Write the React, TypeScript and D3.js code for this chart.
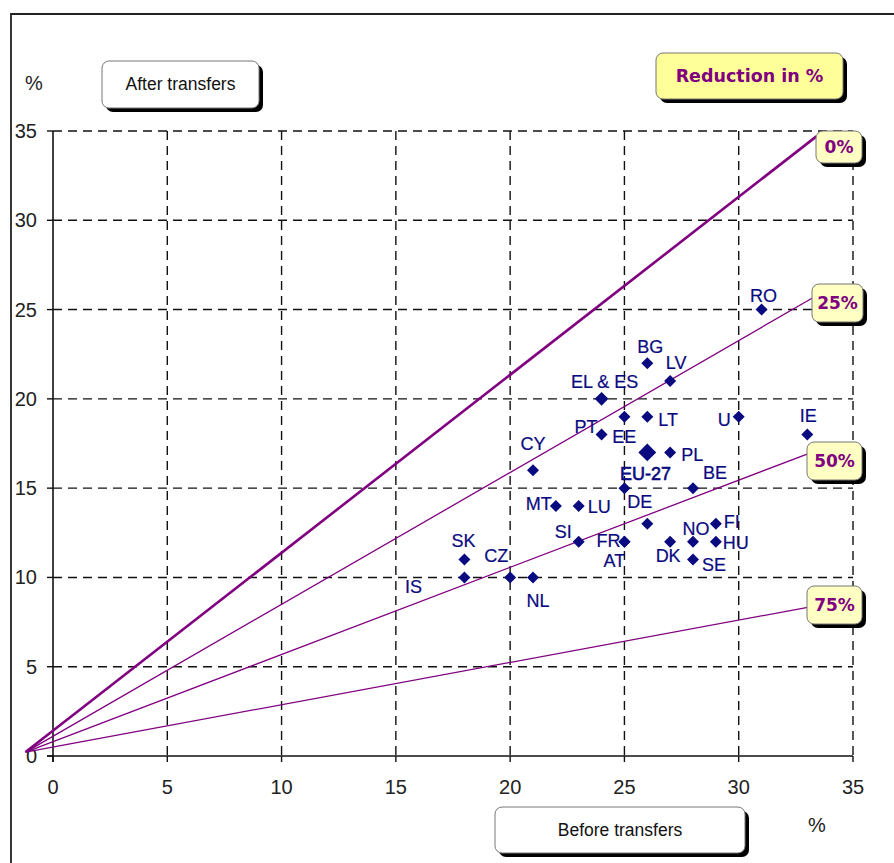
import React from "react";
import * as d3 from "d3";

// ---- data ----
const countries = ["RO","BG","LV","EL & ES","","LT","U","IE","PT","EE","PL","CY","EU-27","BE","DE","MT","LU","SI","FR","AT","DK","NO","FI","HU","SE","SK","IS","CZ","NL"];
const beforeTransfers = [31,26,27,24,25,26,30,33,24,26,27,21,25,28,26,22,23,23,25,25,27,28,29,29,28,18,18,20,21];
const afterTransfers = [25,22,21,20,19,19,19,18,18,17,17,16,15,15,13,14,14,12,12,12,12,12,13,12,11,11,10,10,10];
const bigPoints = ["EE"];

const xTicks = [0,5,10,15,20,25,30,35];
const yTicks = [0,5,10,15,20,25,30,35];

const reductionLabels = ["0%","25%","50%","75%"];
const lineOrigin = [-1.2, 0.22];
const lineEndX = [33.4, 33.7, 33.8, 33.55];
const lineEndY = [34.7, 26.0, 17.3, 8.45];

// ---- layout (positions / styles) ----
const labelLayout: Record<string, [string, number, number]> = {
  "RO": ["middle", 2, -8],
  "BG": ["middle", 3, -10],
  "LV": ["middle", 6, -12],
  "EL & ES": ["middle", 3, -11],
  "LT": ["start", 11, 9],
  "U": ["end", -8, 9],
  "IE": ["middle", 1, -13],
  "PT": ["end", -4, -2],
  "EE": ["end", -11, -9],
  "PL": ["start", 11, 9],
  "CY": ["middle", 0, -20],
  "EU-27": ["middle", 21, -8],
  "BE": ["middle", 22, -9],
  "DE": ["start", -20, -16],
  "MT": ["end", -4, 4],
  "LU": ["start", 9, 7],
  "SI": ["end", -7, -4],
  "FR": ["end", -4, 5],
  "AT": ["middle", -10, 25],
  "DK": ["middle", -2, 20],
  "NO": ["middle", 3, -7],
  "FI": ["start", 8, 4],
  "HU": ["start", 7, 7],
  "SE": ["start", 9, 11],
  "SK": ["middle", -1, -13],
  "IS": ["middle", -51, 16],
  "CZ": ["middle", -14, -15],
  "NL": ["middle", 5, 30],
};
const pctBoxes = [
  { x: 816, y: 131, w: 46, h: 32 },
  { x: 812, y: 284, w: 51, h: 38 },
  { x: 807, y: 442, w: 55, h: 38 },
  { x: 807, y: 586, w: 55, h: 38 },
];

const W = 894, H = 863;
const x = d3.scaleLinear().domain([0, 35]).range([53, 853]);
const y = d3.scaleLinear().domain([0, 35]).range([756, 131]);

const NAVY = "#0a0a80";
const PURPLE = "#800080";
const SANS = "'Liberation Sans', Arial, Helvetica, sans-serif";
const WIDE = "'DejaVu Sans', Verdana, sans-serif";

function ShadowBox({ x0, y0, w, h, fill, r = 7 }: { x0: number; y0: number; w: number; h: number; fill: string; r?: number }) {
  return (
    <g>
      <rect x={x0 + 4} y={y0 + 4} width={w} height={h} rx={r} fill="#000" />
      <rect x={x0} y={y0} width={w} height={h} rx={r} fill={fill} stroke="#777" strokeWidth={1} />
    </g>
  );
}

export default function App() {
  const diamond = (size: number) => d3.symbol().type(d3.symbolSquare).size(size)() as string;
  const lineGen = d3.line<[number, number]>().x((d) => x(d[0])).y((d) => y(d[1]));
  return (
    <svg width={W} height={H} style={{ position: "absolute", left: 0, top: 0, background: "#fff" }}>
      <rect x={0} y={0} width={W} height={H} fill="#fff" />
      {/* frame */}
      <path d={`M11,${H + 5} L11,14 L${W + 5},14`} fill="none" stroke="#222" strokeWidth={1.8} />

      {/* grid */}
      {yTicks.filter((t) => t > 0).map((t) => (
        <line key={"gy" + t} x1={x(0)} x2={x(35)} y1={y(t)} y2={y(t)} stroke="#111" strokeWidth={1.4} strokeDasharray="9,6" />
      ))}
      {xTicks.filter((t) => t > 0).map((t) => (
        <line key={"gx" + t} x1={x(t)} x2={x(t)} y1={y(35)} y2={y(0)} stroke="#111" strokeWidth={1.4} strokeDasharray="9,6" />
      ))}
      {/* axes */}
      <line x1={x(0)} x2={x(0)} y1={y(35)} y2={y(0) + 6} stroke="#111" strokeWidth={1.6} />
      <line x1={x(0) - 6} x2={x(35)} y1={y(0)} y2={y(0)} stroke="#111" strokeWidth={1.6} />
      {xTicks.map((t) => (
        <line key={"tx" + t} x1={x(t)} x2={x(t)} y1={y(0)} y2={y(0) + 6} stroke="#111" strokeWidth={1.4} />
      ))}
      {yTicks.map((t) => (
        <line key={"ty" + t} x1={x(0) - 6} x2={x(0)} y1={y(t)} y2={y(t)} stroke="#111" strokeWidth={1.4} />
      ))}
      {xTicks.map((t) => (
        <text key={"lx" + t} x={x(t)} y={y(0) + 38} textAnchor="middle" fontFamily={SANS} fontSize={20} fill="#222">{t}</text>
      ))}
      {yTicks.map((t) => (
        <text key={"ly" + t} x={37} y={y(t) + 7} textAnchor="end" fontFamily={SANS} fontSize={20} fill="#222">{t}</text>
      ))}

      {/* reduction lines */}
      {reductionLabels.map((lab, i) => (
        <path key={"rl" + lab} d={lineGen([[lineOrigin[0], lineOrigin[1]], [lineEndX[i], lineEndY[i]]]) as string}
          fill="none" stroke={PURPLE} strokeWidth={i === 0 ? 2.6 : 1.3} />
      ))}

      {/* points */}
      {countries.map((c, i) => {
        const big = bigPoints.includes(c);
        const mid = c === "EL & ES";
        return (
          <path key={"p" + i} d={diamond(big ? 160 : mid ? 95 : 72)} transform={`translate(${x(beforeTransfers[i])},${y(afterTransfers[i])}) rotate(45)`} fill={NAVY} />
        );
      })}
      {countries.map((c, i) => {
        if (!c) return null;
        const [anchor, dx, dy] = labelLayout[c] || ["middle", 0, -10];
        return (
          <text key={"t" + i} x={x(beforeTransfers[i]) + dx} y={y(afterTransfers[i]) + dy} textAnchor={anchor as any}
            fontFamily={SANS} fontSize={18} fill={NAVY} stroke={NAVY} strokeWidth={c === "EU-27" ? 0.6 : 0.2}>{c}</text>
        );
      })}

      {/* percent boxes */}
      {reductionLabels.map((lab, i) => {
        const b = pctBoxes[i];
        return (
          <g key={"pb" + lab}>
            <ShadowBox x0={b.x} y0={b.y} w={b.w} h={b.h} fill="#ffffc4" />
            <text x={b.x + b.w / 2} y={b.y + b.h / 2 + 6} textAnchor="middle" fontFamily={WIDE} fontWeight="bold" fontSize={17} fill={PURPLE}>{lab}</text>
          </g>
        );
      })}

      {/* title boxes */}
      <ShadowBox x0={656} y0={53} w={187} h={46} fill="#ffff99" />
      <text x={749.5} y={82} textAnchor="middle" fontFamily={WIDE} fontWeight="bold" fontSize={17.5} fill={PURPLE}>Reduction in %</text>

      <ShadowBox x0={102} y0={61} w={157} h={47} fill="#fff" />
      <text x={180.5} y={90} textAnchor="middle" fontFamily={SANS} fontSize={17.5} fill="#111">After transfers</text>
      <text x={34} y={90} textAnchor="middle" fontFamily={SANS} fontSize={20} fill="#222">%</text>

      <ShadowBox x0={495} y0={807} w={250} h={46} fill="#fff" />
      <text x={620} y={836} textAnchor="middle" fontFamily={SANS} fontSize={17.5} fill="#111">Before transfers</text>
      <text x={817} y={832} textAnchor="middle" fontFamily={SANS} fontSize={20} fill="#222">%</text>
    </svg>
  );
}
